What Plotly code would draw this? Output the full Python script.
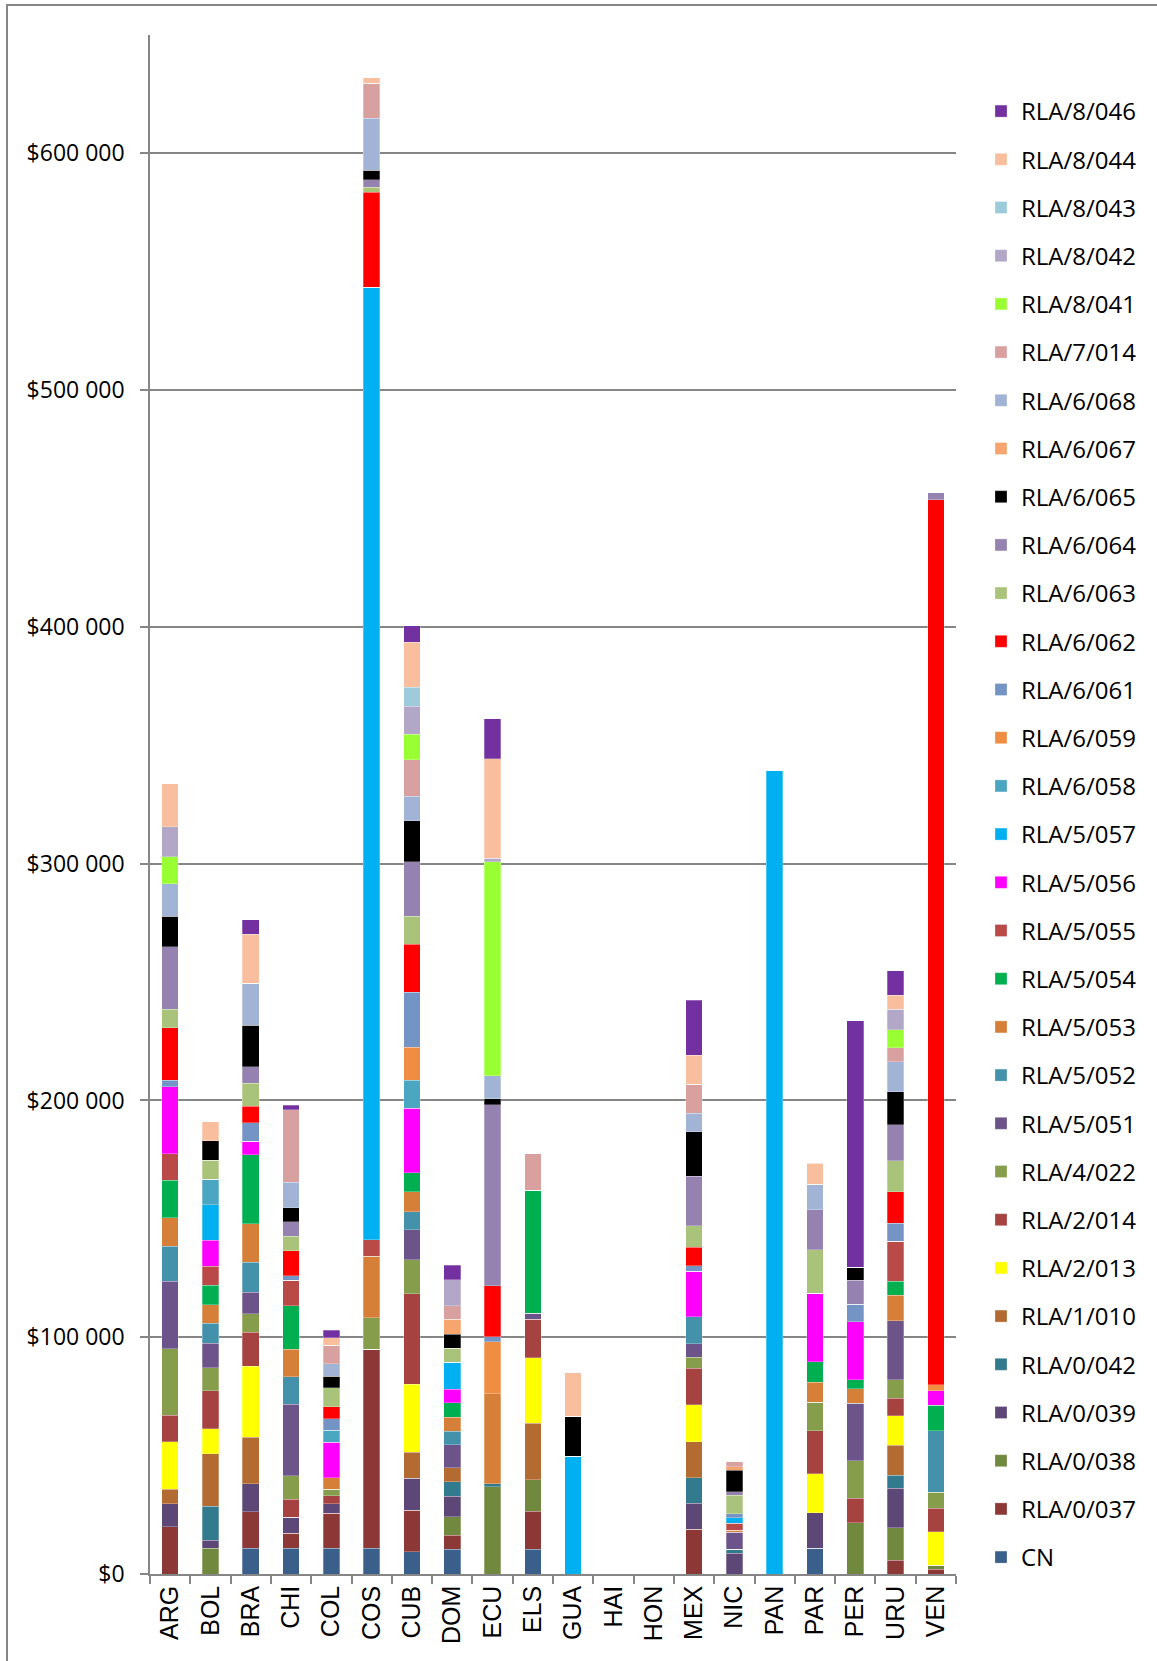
import plotly.graph_objects as go

countries = ["ARG", "BOL", "BRA", "CHI", "COL", "COS", "CUB", "DOM", "ECU", "ELS",
             "GUA", "HAI", "HON", "MEX", "NIC", "PAN", "PAR", "PER", "URU", "VEN"]

#            ARG    BOL    BRA    CHI    COL    COS     CUB    DOM    ECU    ELS    GUA    HAI HON MEX    NIC    PAN     PAR    PER     URU    VEN
cn        = [0,     0,     10900, 10900, 10900, 10900,  9300,  10400, 0,     10400, 0,     0, 0, 0,     0,     0,      10900, 0,      0,     0]
rla_0_037 = [19900, 0,     15300, 6300,  14800, 84100,  17600, 6000,  0,     16200, 0,     0, 0, 19000, 0,     0,      0,     0,      5800,  2000]
rla_0_038 = [0,     10900, 0,     0,     0,     0,      0,     7700,  36800, 13200, 0,     0, 0, 0,     0,     0,      0,     21700,  13700, 1800]
rla_0_039 = [9700,  3400,  11900, 6800,  3900,  0,      13500, 8800,  0,     0,     0,     0, 0, 10900, 8700,  0,      14900, 0,      16800, 0]
rla_0_042 = [0,     14300, 0,     0,     0,     0,      0,     6000,  1400,  0,     0,     0, 0, 10700, 1700,  0,      0,     0,      5500,  0]
rla_1_010 = [6100,  22100, 19600, 0,     0,     0,      11000, 6000,  0,     23900, 0,     0, 0, 15300, 0,     0,      0,     0,      12600, 0]
rla_2_013 = [20100, 10700, 30100, 0,     0,     0,      28800, 0,     0,     27700, 0,     0, 0, 15600, 0,     0,      16600, 0,      12400, 14000]
rla_2_014 = [11200, 16000, 14300, 7500,  3400,  0,      38200, 0,     0,     16200, 0,     0, 0, 15300, 0,     0,      18100, 10400,  7500,  9900]
rla_4_022 = [28100, 9700,  7800,  9900,  2900,  13300,  14300, 0,     0,     0,     0,     0, 0, 4700,  0,     0,      12100, 15800,  7700,  6800]
rla_5_051 = [28600, 10400, 9200,  30300, 0,     0,      12600, 9600,  0,     2500,  0,     0, 0, 5800,  7200,  0,      0,     24300,  25000, 0]
rla_5_052 = [14800, 8500,  12600, 11600, 0,     0,      7700,  5800,  0,     0,     0,     0, 0, 11300, 0,     0,      0,     0,      0,     25900]
rla_5_053 = [11900, 7800,  16200, 11600, 4800,  25900,  8500,  6000,  37900, 0,     0,     0, 0, 0,     800,   0,      8300,  6000,   10700, 0]
rla_5_054 = [16000, 8200,  29100, 18400, 0,     0,      8000,  6000,  0,     51900, 0,     0, 0, 0,     0,     0,      8700,  3800,   6000,  10900]
rla_5_055 = [11200, 8000,  0,     10700, 0,     7000,   0,     0,     0,     0,     0,     0, 0, 0,     3000,  0,      0,     0,      16900, 0]
rla_5_056 = [28100, 10900, 5800,  0,     15000, 0,      27200, 5800,  0,     0,     0,     0, 0, 19200, 0,     0,      29000, 24500,  0,     6100]
rla_5_057 = [0,     15000, 0,     0,     0,     402200, 0,     11300, 0,     0,     49700, 0, 0, 0,     2400,  339500, 0,     0,      0,     0]
rla_6_058 = [0,     10900, 0,     0,     5100,  0,      11800, 0,     0,     0,     0,     0, 0, 0,     0,     0,      0,     0,      0,     0]
rla_6_059 = [0,     0,     0,     0,     0,     0,      14000, 0,     22000, 0,     0,     0, 0, 0,     0,     0,      0,     0,      0,     2600]
rla_6_061 = [2900,  0,     7800,  1900,  4800,  0,      23300, 0,     2200,  0,     0,     0, 0, 2300,  1700,  0,      0,     7500,   7500,  0]
rla_6_062 = [22100, 0,     7000,  10700, 5100,  40200,  20100, 0,     21400, 0,     0,     0, 0, 7900,  0,     0,      0,     0,      13400, 373800]
rla_6_063 = [7800,  8000,  9700,  6100,  8000,  2100,   11800, 6000,  0,     0,     0,     0, 0, 9000,  7700,  0,      18300, 0,      13000, 0]
rla_6_064 = [26400, 0,     7000,  6100,  0,     3100,   23100, 0,     76400, 0,     0,     0, 0, 20900, 1500,  0,      16900, 10000,  15300, 2800]
rla_6_065 = [12800, 8200,  17500, 5800,  4800,  4000,   17300, 5800,  2700,  0,     17000, 0, 0, 18800, 9200,  0,      0,     5500,   13900, 0]
rla_6_067 = [0,     0,     0,     0,     0,     0,      0,     6300,  0,     0,     0,     0, 0, 0,     1500,  0,      0,     0,      0,     0]
rla_6_068 = [13800, 0,     17700, 10900, 5300,  22100,  10400, 0,     9600,  0,     0,     0, 0, 7900,  0,     0,      10900, 0,      12600, 0]
rla_7_014 = [0,     0,     0,     30500, 7800,  14800,  15400, 5800,  0,     15700, 0,     0, 0, 12200, 2100,  0,      0,     0,      6000,  0]
rla_8_041 = [11400, 0,     0,     0,     0,     0,      10700, 0,     90400, 0,     0,     0, 0, 0,     0,     0,      0,     0,      7500,  0]
rla_8_042 = [12600, 0,     0,     0,     0,     0,      11800, 11000, 1600,  0,     0,     0, 0, 0,     0,     0,      0,     0,      8700,  0]
rla_8_043 = [0,     0,     0,     0,     0,     0,      8200,  0,     0,     0,     0,     0, 0, 0,     0,     0,      0,     0,      0,     0]
rla_8_044 = [18200, 8000,  20800, 0,     3200,  2200,   19000, 0,     42000, 0,     18400, 0, 0, 12200, 0,     0,      8700,  0,      6000,  0]
rla_8_046 = [0,     0,     6100,  1900,  3200,  0,      6900,  6000,  16800, 0,     0,     0, 0, 23300, 0,     0,      0,     104100, 10200, 0]

series = [
    ("CN", cn, "#3A5F8B"),
    ("RLA/0/037", rla_0_037, "#8C3836"),
    ("RLA/0/038", rla_0_038, "#71893F"),
    ("RLA/0/039", rla_0_039, "#5C4776"),
    ("RLA/0/042", rla_0_042, "#327B8F"),
    ("RLA/1/010", rla_1_010, "#B46B31"),
    ("RLA/2/013", rla_2_013, "#FFFF00"),
    ("RLA/2/014", rla_2_014, "#A64341"),
    ("RLA/4/022", rla_4_022, "#869E4B"),
    ("RLA/5/051", rla_5_051, "#6C548A"),
    ("RLA/5/052", rla_5_052, "#4391AB"),
    ("RLA/5/053", rla_5_053, "#D57F38"),
    ("RLA/5/054", rla_5_054, "#00B050"),
    ("RLA/5/055", rla_5_055, "#B94A48"),
    ("RLA/5/056", rla_5_056, "#FF00FF"),
    ("RLA/5/057", rla_5_057, "#00B0F0"),
    ("RLA/6/058", rla_6_058, "#4AA6C1"),
    ("RLA/6/059", rla_6_059, "#EF8E42"),
    ("RLA/6/061", rla_6_061, "#7394C5"),
    ("RLA/6/062", rla_6_062, "#FF0000"),
    ("RLA/6/063", rla_6_063, "#AAC37A"),
    ("RLA/6/064", rla_6_064, "#9582B0"),
    ("RLA/6/065", rla_6_065, "#000000"),
    ("RLA/6/067", rla_6_067, "#F7A56E"),
    ("RLA/6/068", rla_6_068, "#A2B4D5"),
    ("RLA/7/014", rla_7_014, "#D8A09E"),
    ("RLA/8/041", rla_8_041, "#99FF33"),
    ("RLA/8/042", rla_8_042, "#B2A7C7"),
    ("RLA/8/043", rla_8_043, "#9DCBDB"),
    ("RLA/8/044", rla_8_044, "#F9BE9D"),
    ("RLA/8/046", rla_8_046, "#7230A0"),
]

y_tickvals = [0, 100000, 200000, 300000, 400000, 500000, 600000]
y_ticktext = ["$0", "$100 000", "$200 000", "$300 000", "$400 000", "$500 000", "$600 000"]

fig = go.Figure()
for i, (name, vals, color) in enumerate(series):
    fig.add_trace(go.Bar(
        x=countries, y=vals, name=name, legendgroup=name, legendrank=1000 - i,
        marker=dict(color=color, line=dict(color="rgba(255,255,255,0.45)", width=0.6)),
    ))

W, H = 1157, 1661
L, R, T, B = 150, 201, 35, 87
fig.update_layout(
    width=W, height=H,
    margin=dict(l=L, r=R, t=T, b=B, autoexpand=False),
    barmode="stack", bargap=0.59,
    plot_bgcolor="white", paper_bgcolor="white",
    font=dict(family="Liberation Sans, Arial, sans-serif", color="#000000"),
    showlegend=True,
    legend=dict(
        traceorder="grouped", tracegroupgap=14,
        xref="container", yref="container",
        x=981 / W, xanchor="left", y=1 - 89 / H, yanchor="top",
        maxheight=1620,
        font=dict(family="Open Sans, sans-serif", size=24, color="#000000"),
        bgcolor="rgba(0,0,0,0)", itemclick=False,
    ),
    xaxis=dict(
        type="category", tickangle=-90, tickson="boundaries",
        ticks="outside", ticklen=8, tickcolor="#868686", tickwidth=1.5,
        showline=True, linecolor="#868686", linewidth=1.5,
        showgrid=False,
        tickfont=dict(family="Liberation Sans, Arial, sans-serif", size=25, color="#000000"),
    ),
    yaxis=dict(
        range=[0, 650000], tickvals=y_tickvals, ticktext=y_ticktext,
        ticks="outside", ticklen=8, tickcolor="#868686", tickwidth=1.5,
        showline=True, linecolor="#868686", linewidth=1.5,
        showgrid=True, gridcolor="#868686", gridwidth=1.5,
        zeroline=False, ticklabelstandoff=11,
        tickfont=dict(family="Open Sans, sans-serif", size=23, color="#000000"),
    ),
)

# outer chart-area border
pw, ph = W - L - R, H - T - B
fig.add_shape(type="rect", xref="paper", yref="paper",
              x0=(7 - L) / pw, x1=(W + 10 - L) / pw,
              y0=-(H + 10 - (H - B)) / ph, y1=1 + (T - 5) / ph,
              line=dict(color="#868686", width=2), fillcolor="rgba(0,0,0,0)", layer="below")

fig.write_html("out.html", config={"displayModeBar": False},
               post_script="document.body.style.margin='0px';")
